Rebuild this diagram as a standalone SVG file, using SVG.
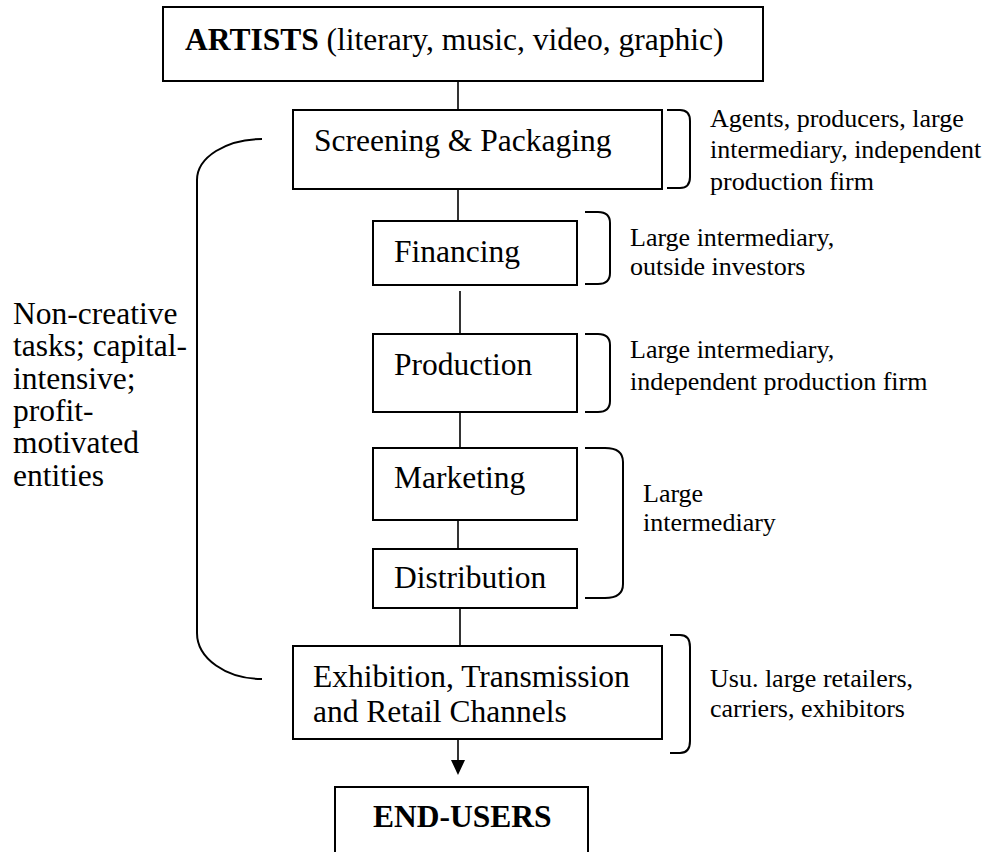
<svg xmlns="http://www.w3.org/2000/svg" width="994" height="852" viewBox="0 0 994 852">
<style>
.box{fill:#fff;stroke:#000;stroke-width:2}
.t{font-family:"Liberation Serif","Times New Roman",serif;font-size:31.5px;fill:#000}
.s{font-family:"Liberation Serif","Times New Roman",serif;font-size:26px;fill:#000}
.b{font-weight:bold}
.c{fill:none;stroke:#000;stroke-width:1.6}
.br{fill:none;stroke:#000;stroke-width:2}
</style>
<defs>
<marker id="ah" markerWidth="14" markerHeight="16" refX="7" refY="15" orient="auto-start-reverse" markerUnits="userSpaceOnUse" viewBox="0 0 14 16">
<path d="M0,0 L14,0 L7,16 Z" fill="#000"/>
</marker>
</defs>
<rect width="994" height="852" fill="#fff"/>
<g id="connectors">
<line class="c" x1="458" y1="81" x2="458" y2="110"/>
<line class="c" x1="458" y1="189" x2="458" y2="221"/>
<line class="c" x1="460" y1="291" x2="460" y2="334"/>
<line class="c" x1="460" y1="412" x2="460" y2="448"/>
<line class="c" x1="458" y1="517" x2="458" y2="549"/>
<line class="c" x1="460" y1="608" x2="460" y2="646"/>
<line class="c" x1="458" y1="740" x2="458" y2="760"/>
<path d="M451,760 L465,760 L458,775 Z" fill="#000"/>
</g>
<g id="artists">
<rect class="box" x="163" y="7" width="600" height="74"/>
<text class="t" x="185" y="50"><tspan class="b">ARTISTS</tspan> (literary, music, video, graphic)</text>
</g>
<g id="screening">
<rect class="box" x="293" y="110" width="369" height="79"/>
<text class="t" x="314" y="151">Screening &amp; Packaging</text>
</g>
<g id="financing">
<rect class="box" x="373" y="221" width="204" height="64"/>
<text class="t" x="394" y="262">Financing</text>
</g>
<g id="production">
<rect class="box" x="373" y="334" width="204" height="78"/>
<text class="t" x="394" y="375">Production</text>
</g>
<g id="marketing">
<rect class="box" x="373" y="448" width="204" height="72"/>
<text class="t" x="394" y="488">Marketing</text>
</g>
<g id="distribution">
<rect class="box" x="373" y="549" width="204" height="59"/>
<text class="t" x="394" y="588">Distribution</text>
</g>
<g id="exhibition">
<rect class="box" x="293" y="646" width="369" height="93"/>
<text class="t" x="313" y="687">Exhibition, Transmission</text>
<text class="t" x="313" y="722">and Retail Channels</text>
</g>
<g id="endusers">
<path d="M335,853 L335,787 L588,787 L588,853" fill="#fff" stroke="#000" stroke-width="2"/>
<text class="t b" x="373" y="827">END-USERS</text>
</g>
<g id="left-bracket">
<path class="br" d="M262,139 A65,41 0 0 0 197,180 L197,633 A65,46 0 0 0 262,679"/>
<text class="t" x="13" y="324">Non-creative</text>
<text class="t" x="13" y="356">tasks; capital-</text>
<text class="t" x="13" y="389">intensive;</text>
<text class="t" x="13" y="421">profit-</text>
<text class="t" x="13" y="453">motivated</text>
<text class="t" x="13" y="486">entities</text>
</g>
<g id="screening-note">
<path class="br" d="M667,110 L680,110 Q690,110 690,121 L690,177 Q690,188 680,188 L667,188"/>
<text class="s" x="710" y="127">Agents, producers, large</text>
<text class="s" x="710" y="158">intermediary, independent</text>
<text class="s" x="710" y="190">production firm</text>
</g>
<g id="financing-note">
<path class="br" d="M585,212 L598,212 Q610,212 610,223 L610,273 Q610,284 598,284 L585,284"/>
<text class="s" x="630" y="246">Large intermediary,</text>
<text class="s" x="630" y="275">outside investors</text>
</g>
<g id="production-note">
<path class="br" d="M585,334 L598,334 Q610,334 610,345 L610,401 Q610,412 598,412 L585,412"/>
<text class="s" x="630" y="358">Large intermediary,</text>
<text class="s" x="630" y="390">independent production firm</text>
</g>
<g id="marketing-note">
<path class="br" d="M585,448 L605,448 Q623,448 623,462 L623,584 Q623,598 605,598 L585,598"/>
<text class="s" x="643" y="502">Large</text>
<text class="s" x="643" y="531">intermediary</text>
</g>
<g id="exhibition-note">
<path class="br" d="M670,635 L680,635 Q690,635 690,647 L690,741 Q690,753 680,753 L670,753"/>
<text class="s" x="710" y="687">Usu. large retailers,</text>
<text class="s" x="710" y="717">carriers, exhibitors</text>
</g>
</svg>
